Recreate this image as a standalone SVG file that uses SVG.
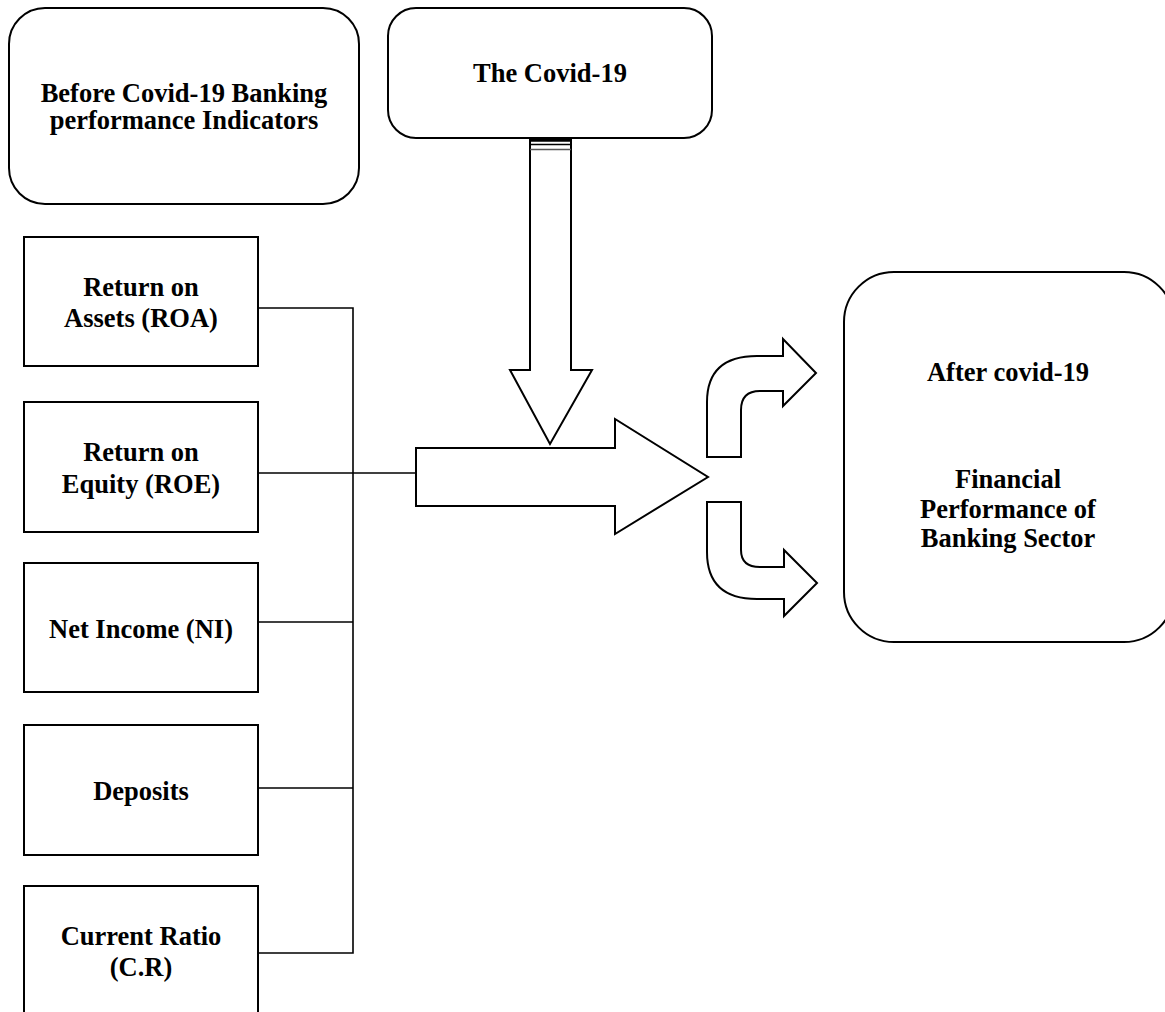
<svg xmlns="http://www.w3.org/2000/svg" width="1165" height="1012" viewBox="0 0 1165 1012">
<style>
.box{fill:#fff;stroke:#000;stroke-width:2}
.shape{fill:#fff;stroke:#000;stroke-width:2;stroke-linejoin:miter}
.conn{fill:none;stroke:#000;stroke-width:1.6}
text{font-family:"Liberation Serif","Times New Roman",serif;font-weight:bold;font-size:26.5px;fill:#000;text-anchor:middle}
</style>
<rect width="1165" height="1012" fill="#fff"/>
<g id="before">
<rect class="box" x="9" y="8" width="350" height="196" rx="36" ry="36"/>
<text x="184" y="102">Before Covid-19 Banking</text>
<text x="184" y="129">performance Indicators</text>
</g>
<g id="covid">
<rect class="box" x="388" y="8" width="324" height="130" rx="28" ry="28"/>
<text x="550" y="82">The Covid-19</text>
</g>
<g id="after">
<rect class="box" x="844" y="272" width="330" height="370" rx="50" ry="50"/>
<text x="1008" y="381">After covid-19</text>
<text x="1008" y="488">Financial</text>
<text x="1008" y="518">Performance of</text>
<text x="1008" y="547">Banking Sector</text>
</g>
<g id="roa">
<rect class="box" x="24" y="237" width="234" height="129"/>
<text x="141" y="296">Return on</text>
<text x="141" y="327">Assets (ROA)</text>
</g>
<g id="roe">
<rect class="box" x="24" y="402" width="234" height="130"/>
<text x="141" y="461">Return on</text>
<text x="141" y="493">Equity (ROE)</text>
</g>
<g id="ni">
<rect class="box" x="24" y="563" width="234" height="129"/>
<text x="141" y="638">Net Income (NI)</text>
</g>
<g id="deposits">
<rect class="box" x="24" y="725" width="234" height="130"/>
<text x="141" y="800">Deposits</text>
</g>
<g id="cr">
<rect class="box" x="24" y="886" width="234" height="132"/>
<text x="141" y="945">Current Ratio</text>
<text x="141" y="976">(C.R)</text>
</g>
<g id="connectors">
<polyline class="conn" points="258,308 353,308 353,953 258,953"/>
<line class="conn" x1="258" y1="473" x2="416" y2="473"/>
<line class="conn" x1="258" y1="622" x2="353" y2="622"/>
<line class="conn" x1="258" y1="788" x2="353" y2="788"/>
<polygon class="shape" points="530,140 530,370 510,370 550,444 592,370 571,370 571,140"/>
<line x1="530" y1="140" x2="571" y2="140" stroke="#000" stroke-width="3.5"/>
<line x1="530" y1="144.5" x2="571" y2="144.5" stroke="#000" stroke-width="1.5"/>
<line x1="530" y1="149.5" x2="571" y2="149.5" stroke="#555" stroke-width="1.5"/>
<polygon class="shape" points="416,448 615,448 615,419 708,477 615,534 615,506 416,506"/>
<path class="shape" d="M707,457 L707,402 Q707,356 757,356 L783,356 L783,339 L816,373 L783,406 L783,391 L760,391 Q741,391 741,410 L741,457 Z"/>
<path class="shape" d="M707,502 L741,502 L741,550 Q741,567 760,567 L784,567 L784,550 L817,583 L784,616 L784,599 L757,599 Q707,599 707,552 Z"/>
</g>
</svg>
